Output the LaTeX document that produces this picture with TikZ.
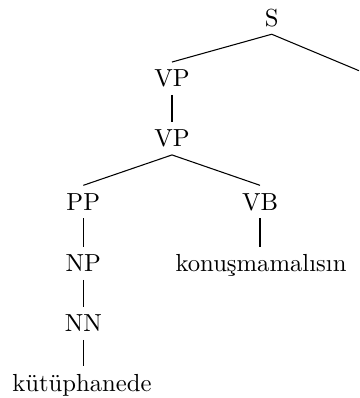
\documentclass[tikz,border=0pt]{standalone}
\usepackage{fontspec}
\begin{document}
\begin{tikzpicture}[x=0.4255pt, y=-0.4255pt,
  cat/.style={anchor=base, inner xsep=0pt, inner ysep=3.3pt,
              text height=7pt, text depth=0pt, font=\fontsize{10.5}{12}\selectfont},
  branch/.style={line width=0.45pt}]
  \useasboundingbox (0,0) rectangle (359,398);
  \clip (0,0) rectangle (359,398);
  % tree nodes, placed at their baselines
  \node[cat] (s)   at (271.7,26)    {S};
  \node[cat] (vp1) at (172,86.7)    {VP};
  \node[cat] (vp2) at (172,146.7)   {VP};
  \node[cat] (pp)  at (83.3,210)    {PP};
  \node[cat] (vb)  at (260,210)     {VB};
  \node[cat] (np)  at (83.3,271.7)  {NP};
  \node[cat] (vw)  at (261,271.7)   {konuşmamalısın};
  \node[cat] (nn)  at (83.3,331.7)  {NN};
  \node[cat] (nw)  at (82,391)      {kütüphanede};
  \coordinate (sr) at (359,70.7);
  % branches
  \draw[branch] (s.south) -- (vp1.north);
  \draw[branch] (s.south) -- (sr);
  \draw[branch] (vp1.south) -- (vp2.north);
  \draw[branch] (vp2.south) -- (pp.north);
  \draw[branch] (vp2.south) -- (vb.north);
  \draw[branch] (pp.south) -- (np.north);
  \draw[branch] (np.south) -- (nn.north);
  \draw[branch] (nn.south) -- (nn.south |- nw.north);
  \draw[branch] (vb.south) -- (vb.south |- vw.north);
\end{tikzpicture}
\end{document}
